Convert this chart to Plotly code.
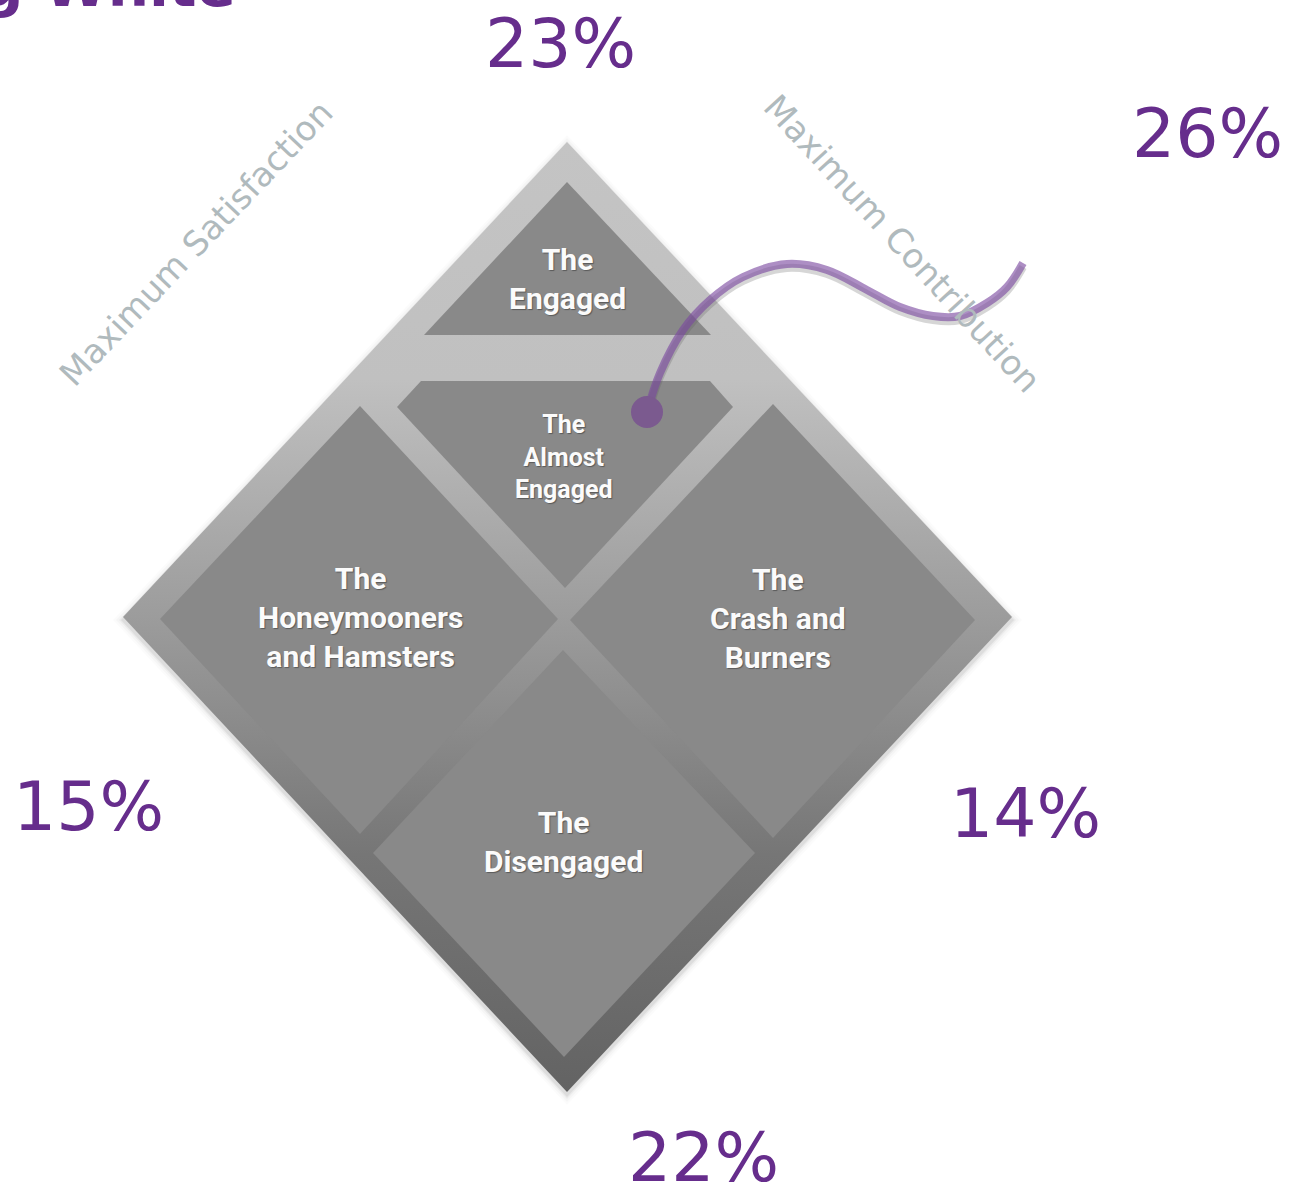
import plotly.graph_objects as go

# ---- data ----
segment_labels = ["The<br>Engaged", "The<br>Almost<br>Engaged",
                  "The<br>Honeymooners<br>and Hamsters",
                  "The<br>Crash and<br>Burners", "The<br>Disengaged"]
segment_shares = [23, 26, 15, 14, 22]

# polygon vertices (page pixel coordinates)
outer_x = [567, 1012, 567, 123]
outer_y = [142, 617, 1092, 617]
engaged_x = [567, 711, 424]
engaged_y = [182, 335, 335]
almost_x = [421, 710, 733, 565, 397]
almost_y = [381, 381, 407, 588, 407]
honey_x = [360, 558, 360, 160]
honey_y = [406, 619, 834, 619]
crash_x = [773, 975, 773, 570]
crash_y = [404, 620, 838, 620]
diseng_x = [563, 755, 564, 373]
diseng_y = [650, 853, 1057, 853]
segment_polys = [(engaged_x, engaged_y), (almost_x, almost_y), (honey_x, honey_y),
                 (crash_x, crash_y), (diseng_x, diseng_y)]

label_x = [567, 564, 360, 778, 563]
label_y = [279, 457, 617, 618, 842]
label_size = [30, 25, 30, 30, 30]

share_x = [560, 1207, 88, 1025, 703]
share_y = [43, 133, 806, 813, 1157]

curve_x = [647, 660, 683, 710, 743, 787, 827, 867, 900, 933, 960, 987, 1007, 1023]
curve_y = [412, 373, 330, 300, 277, 264, 270, 290, 307, 316, 316, 303, 287, 263]

axis_labels = ["Maximum Satisfaction", "Maximum Contribution"]
axis_label_x = [196, 902]
axis_label_y = [243, 243]
axis_label_angle = [-46.5, 47.4]

PURPLE = "#662d8c"

fig = go.Figure()

# soft drop shadow
for k, a in [(10, 0.015), (7, 0.025), (4, 0.04), (2, 0.06)]:
    fig.add_trace(go.Scatter(
        x=[outer_x[0], outer_x[1] + k, outer_x[2], outer_x[3] - k, outer_x[0]],
        y=[outer_y[0] - k + 3, outer_y[1] + 3, outer_y[2] + k + 3, outer_y[3] + 3, outer_y[0] - k + 3],
        mode="lines", fill="toself", line=dict(width=0),
        fillcolor=f"rgba(0,0,0,{a})", hoverinfo="skip", showlegend=False))

# outer gradient diamond
fig.add_trace(go.Scatter(
    x=outer_x + [outer_x[0]], y=outer_y + [outer_y[0]],
    mode="lines", fill="toself", line=dict(width=0),
    fillgradient=dict(type="vertical", start=142, stop=1092,
                      colorscale=[[0, "#c4c4c4"], [0.25, "#c0c0c0"], [0.5, "#9c9c9c"],
                                  [0.75, "#767676"], [1, "#636363"]]),
    hoverinfo="skip", showlegend=False))

for (px, py) in segment_polys:
    fig.add_trace(go.Scatter(
        x=px + [px[0]], y=py + [py[0]], mode="lines", fill="toself",
        line=dict(width=0), fillcolor="#898989", hoverinfo="skip", showlegend=False))

# curve shadow + curve + dot
fig.add_trace(go.Scatter(x=curve_x, y=[v + 4 for v in curve_y], mode="lines",
                         line=dict(color="rgba(90,90,90,0.25)", width=8, shape="spline"),
                         hoverinfo="skip", showlegend=False))
fig.add_trace(go.Scatter(x=curve_x, y=curve_y, mode="lines",
                         line=dict(color="rgba(122,72,160,0.62)", width=8, shape="spline"),
                         hoverinfo="skip", showlegend=False))
fig.add_trace(go.Scatter(x=[curve_x[0]], y=[curve_y[0]], mode="markers",
                         marker=dict(size=32, color="#7b5a8f", line=dict(width=0)),
                         hoverinfo="skip", showlegend=False))

anns = []
for lab, x, y, s in zip(segment_labels, label_x, label_y, label_size):
    anns.append(dict(x=x, y=y, text=lab, showarrow=False, xanchor="center", yanchor="middle",
                     font=dict(family="Roboto", size=s, color="#fbfbfb", weight="bold",
                               shadow="1px 1px 1px #5a5a5a")))
for v, x, y in zip(segment_shares, share_x, share_y):
    anns.append(dict(x=x, y=y, text=f"{v}%", showarrow=False, xanchor="center", yanchor="middle",
                     font=dict(family="DejaVu Sans", size=68, color=PURPLE)))
for t, x, y, a in zip(axis_labels, axis_label_x, axis_label_y, axis_label_angle):
    anns.append(dict(x=x, y=y, text=t, showarrow=False, textangle=a,
                     font=dict(family="DejaVu Sans", size=34, color="#b0babd")))
# cropped title remnant at top-left
anns.append(dict(x=0, y=22, xshift=-20, text="g White", showarrow=False,
                 xanchor="left", yanchor="bottom",
                 font=dict(family="DejaVu Sans", size=58, color=PURPLE, weight="bold")))

fig.update_layout(
    width=1291, height=1187, margin=dict(l=0, r=0, t=0, b=0),
    paper_bgcolor="white", plot_bgcolor="white", annotations=anns,
    xaxis=dict(range=[0, 1291], visible=False, fixedrange=True),
    yaxis=dict(range=[1187, 0], visible=False, fixedrange=True),
)
fig.write_html("out.html", config={"displayModeBar": False},
               post_script="document.body.style.margin='0';")
